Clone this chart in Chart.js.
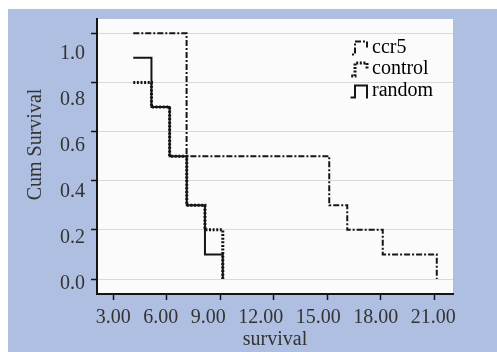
<!DOCTYPE html>
<html><head><meta charset="utf-8">
<script src="https://cdn.jsdelivr.net/npm/chart.js@4.4.1/dist/chart.umd.min.js"></script>
<style>
html,body{margin:0;padding:0;background:#fff;width:497px;height:352px;overflow:hidden;}
#frame{position:absolute;left:8px;top:9px;width:489px;height:343px;background:#AFBFE1;}
canvas{display:block;}
</style></head><body>
<div id="frame"><canvas id="c" width="489" height="343" style="width:489px;height:343px"></canvas></div>
<script>
// ---- data ----
const seriesNames = ['ccr5', 'control', 'random'];
const ccr5Times = [4.12, 7.11, 15.11, 16.12, 18.11, 21.14];
const ccr5Survival = [1.0, 0.5, 0.3, 0.2, 0.1, 0.0];
const controlTimes = [4.12, 5.14, 6.16, 7.12, 8.14, 9.14];
const controlSurvival = [0.8, 0.7, 0.5, 0.3, 0.2, 0.0];
const randomTimes = [4.12, 5.14, 6.16, 7.12, 8.14, 9.14];
const randomSurvival = [0.9, 0.7, 0.5, 0.3, 0.1, 0.0];
const xTickLabels = ['3.00', '6.00', '9.00', '12.00', '15.00', '18.00', '21.00'];
const yTickLabels = ['0.0', '0.2', '0.4', '0.6', '0.8', '1.0'];
const xTitle = 'survival';
const yTitle = 'Cum Survival';

const FONT = '"Liberation Serif", "Times New Roman", serif';
const TEXT = '#333333';
const INK = '#151515';

const pts = (xs, ys) => xs.map((x, i) => ({x: x, y: ys[i]}));
const xTickValues = xTickLabels.map(Number);
const yTickValues = yTickLabels.map(Number);

const styles = {
  ccr5:    {dash: [6, 2, 2, 2], width: 2},
  control: {dash: [2, 1.6], width: 3},
  random:  {dash: [], width: 2}
};

function makeIcon(name) {
  const st = styles[name];
  const c = document.createElement('canvas');
  c.width = 26; c.height = 18;
  const g = c.getContext('2d');
  g.strokeStyle = INK; g.lineWidth = Math.max(2, st.width); g.setLineDash(st.dash);
  g.beginPath();
  if (name === 'random') {
    g.moveTo(0, 16); g.lineTo(11, 16); g.lineTo(11, 4); g.lineTo(23, 4); g.lineTo(23, 17);
  } else {
    g.moveTo(0, 16); g.lineTo(11, 16); g.lineTo(11, 3); g.lineTo(23, 3); g.lineTo(23, 9);
  }
  g.stroke();
  return c;
}

const seriesData = {
  ccr5: pts(ccr5Times, ccr5Survival),
  control: pts(controlTimes, controlSurvival),
  random: pts(randomTimes, randomSurvival)
};

const datasets = seriesNames.map((n) => ({
  label: n,
  data: seriesData[n],
  stepped: 'before',
  borderColor: INK,
  borderWidth: styles[n].width,
  borderDash: styles[n].dash,
  borderCapStyle: 'butt',
  pointRadius: 0,
  fill: false,
  order: n === 'control' ? 0 : (n === 'ccr5' ? 1 : 2)
}));

const plotBg = {
  id: 'plotBg',
  beforeDraw(chart) {
    const {ctx, chartArea: a} = chart;
    ctx.save();
    ctx.fillStyle = '#FBFBFB';
    ctx.fillRect(a.left, a.top, a.right - a.left, a.bottom - a.top);
    ctx.restore();
  }
};

const placeLegend = {
  id: 'placeLegend',
  afterLayout(chart) {
    const L = chart.legend, a = chart.chartArea;
    if (L) {
      L.left = a.right - 102.5;
      L.right = L.left + L.width;
      L.top = a.top + 17;
    }
    const s = chart.scales.yLab;
    if (s && !s._shifted) {
      const orig = s.drawTitle.bind(s);
      s.drawTitle = function () {
        this.ctx.save(); this.ctx.translate(0, -12); orig(); this.ctx.restore();
      };
      s._shifted = true;
    }
  }
};

const xLabelRow = {
  id: 'xLabelRow',
  afterDraw(chart) {
    const s = chart.scales.x, ctx = chart.ctx;
    ctx.save();
    ctx.font = '20px ' + FONT;
    ctx.fillStyle = TEXT;
    ctx.textAlign = 'left';
    ctx.textBaseline = 'alphabetic';
    const widths = xTickLabels.map(t => ctx.measureText(t).width);
    let x = s.getPixelForValue(xTickValues[0]) - widths[0] / 2;
    const y = s.top + 28.5;
    xTickLabels.forEach((t, i) => { ctx.fillText(t, x, y); x += widths[i] + 12.5; });
    ctx.restore();
  }
};

const noPad = s => { s.paddingTop = 0; s.paddingBottom = 0; s.paddingLeft = 0; s.paddingRight = 0; };

new Chart(document.getElementById('c'), {
  type: 'line',
  data: {datasets: datasets},
  plugins: [plotBg, placeLegend, xLabelRow],
  options: {
    responsive: false,
    animation: false,
    devicePixelRatio: 1,
    layout: {padding: {top: 10, right: 44, bottom: 0, left: 0}},
    plugins: {
      tooltip: {enabled: false},
      legend: {
        position: 'chartArea',
        align: 'start',
        labels: {
          usePointStyle: true,
          pointStyleWidth: 10,
          padding: 1.5,
          color: TEXT,
          font: {family: FONT, size: 20},
          generateLabels(chart) {
            return chart.data.datasets.map((d, i) => ({
              text: d.label,
              pointStyle: makeIcon(d.label),
              fillStyle: INK, strokeStyle: INK, lineWidth: 0,
              hidden: false, datasetIndex: i
            }));
          }
        }
      }
    },
    scales: {
      x: {
        type: 'linear',
        position: 'bottom',
        min: 2.086, max: 22.05,
        afterBuildTicks: s => { s.ticks = xTickValues.map(v => ({value: v})); },
        afterFit: s => { s.height = 58; noPad(s); },
        ticks: {display: false, autoSkip: false},
        grid: {drawOnChartArea: false, drawTicks: true, tickLength: 6, tickColor: INK, tickWidth: 1.5},
        border: {display: true, color: INK, width: 2},
        title: {display: true, text: xTitle, color: TEXT, font: {family: FONT, size: 20}, padding: {top: 0, bottom: 0}}
      },
      y: {
        type: 'linear',
        position: 'left',
        weight: 0,
        min: -0.061, max: 1.058,
        afterBuildTicks: s => { s.ticks = yTickValues.map(v => ({value: v})); },
        afterFit: s => { s.width = 6; noPad(s); },
        ticks: {display: false, autoSkip: false},
        grid: {color: '#D9D9D9', lineWidth: 1, drawTicks: true, tickLength: 6, tickColor: INK, tickWidth: 1.5},
        border: {display: true, color: INK, width: 2}
      },
      yLab: {
        type: 'linear',
        position: 'left',
        weight: 1,
        min: -0.0448, max: 1.151,
        afterBuildTicks: s => { s.ticks = yTickValues.map(v => ({value: v})); },
        afterFit: s => { s.width = 83; noPad(s); },
        ticks: {
          autoSkip: false, padding: 6, color: TEXT,
          font: {family: FONT, size: 20},
          callback: (v, i) => yTickLabels[i]
        },
        grid: {display: false, drawTicks: false},
        border: {display: false},
        title: {display: true, text: yTitle, color: TEXT, font: {family: FONT, size: 20}, padding: {top: 16, bottom: 0}}
      }
    }
  }
});
</script>
</body></html>
